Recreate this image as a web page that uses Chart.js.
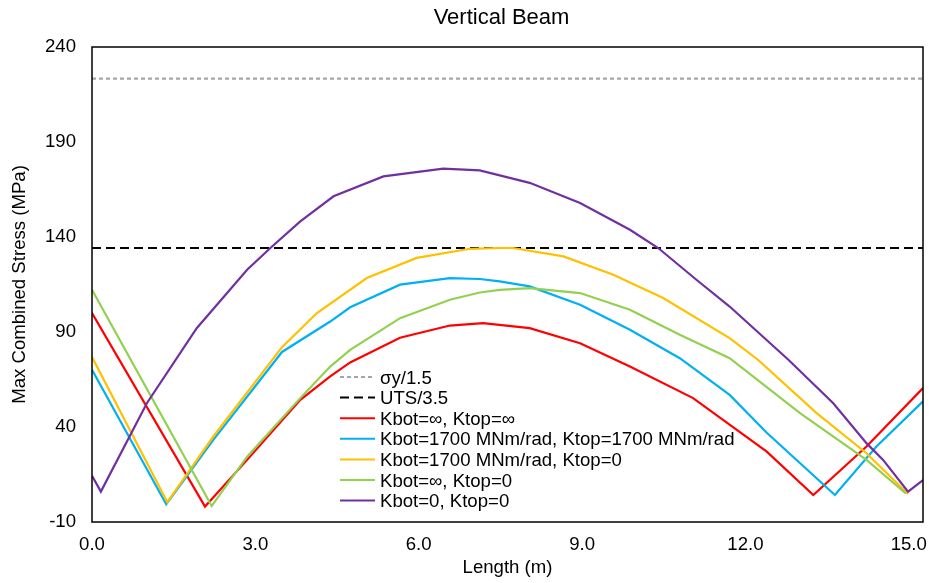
<!DOCTYPE html>
<html><head><meta charset="utf-8">
<script src="https://cdn.jsdelivr.net/npm/chart.js@4.4.1/dist/chart.umd.min.js"></script>
<style>html,body{margin:0;padding:0;background:#fff;overflow:hidden}canvas{display:block}</style>
</head><body>
<canvas id="c" width="929" height="583"></canvas>
<script>
const chartTitle = "Vertical Beam";
const xAxisTitle = "Length (m)";
const yAxisTitle = "Max Combined Stress (MPa)";
const xTicks = [0, 3, 6, 9, 12, 15];
const yTicks = [-10, 40, 90, 140, 190, 240];

const seriesNames = ["σy/1.5", "UTS/3.5", "Kbot=∞, Ktop=∞", "Kbot=1700 MNm/rad, Ktop=1700 MNm/rad",
  "Kbot=1700 MNm/rad, Ktop=0", "Kbot=∞, Ktop=0", "Kbot=0, Ktop=0"];

const limitLength = [0, 15];
const sigmaY15 = [223.4, 223.4];
const uts35 = [134.2, 134.2];

const redLength = [0, 2.04, 2.80, 3.76, 4.30, 4.66, 5.56, 6.46, 7.06, 7.9, 8.81, 9.71, 10.85, 12.18, 13.02, 13.98, 15.0];
const redStress = [100, -1.9, 22.7, 54.3, 66.6, 74.0, 87.0, 93.4, 94.7, 92.0, 84.1, 71.8, 55.2, 27.0, 4.2, 29.7, 60.5];

const blueLength = [0, 1.34, 2.19, 3.43, 4.30, 4.66, 5.56, 6.46, 7.0, 7.36, 7.9, 8.81, 9.71, 10.61, 11.51, 12.18, 13.41, 14.16, 15.0];
const blueStress = [70.1, -0.7, 33.2, 79.5, 95.5, 103.0, 114.9, 118.4, 117.9, 116.6, 114.0, 104.3, 91.2, 76.2, 56.9, 37.0, 4.2, 29.7, 53.5];

const orangeLength = [0, 1.36, 2.19, 3.43, 4.06, 4.96, 5.86, 6.82, 7.36, 7.6, 8.51, 9.41, 10.31, 11.51, 12.02, 13.08, 13.98, 14.73];
const orangeStress = [76.8, 0.4, 35.0, 82.0, 100.0, 118.4, 129.0, 133.8, 134.2, 134.2, 129.8, 120.1, 107.9, 86.8, 75.4, 47.3, 26.2, 4.7];

const greenLength = [0, 2.16, 2.80, 3.76, 4.30, 4.66, 5.56, 6.46, 7.0, 7.36, 7.9, 8.81, 9.71, 10.61, 11.51, 12.78, 13.98, 14.69];
const greenStress = [112.2, -1.6, 24.4, 55.2, 71.8, 80.6, 97.3, 107.0, 110.8, 112.2, 113.1, 110.5, 101.7, 88.5, 76.2, 47.3, 22.7, 5.0];

const purpleLength = [0, 0.16, 0.99, 1.89, 2.80, 3.22, 3.76, 4.36, 5.26, 6.34, 7.0, 7.9, 8.81, 9.71, 10.22, 10.91, 11.51, 12.57, 13.38, 13.98, 14.28, 14.73, 15.0];
const purpleStress = [14.3, 6.0, 52.5, 92.0, 122.8, 134.2, 148.2, 161.4, 171.9, 176.0, 175.1, 168.5, 157.9, 143.8, 134.2, 117.5, 103.4, 75.4, 52.5, 31.5, 22.7, 6.0, 12.1];

const zip = (xs, ys) => xs.map((x, i) => ({x: x, y: ys[i]}));

const datasets = [
  {label: seriesNames[0], data: zip(limitLength, sigmaY15), borderColor: '#A6A6A6', borderDash: [4, 3], order: 6},
  {label: seriesNames[1], data: zip(limitLength, uts35), borderColor: '#000000', borderDash: [9, 5], order: 5},
  {label: seriesNames[2], data: zip(redLength, redStress), borderColor: '#FF0000', borderDash: [], order: 4},
  {label: seriesNames[3], data: zip(blueLength, blueStress), borderColor: '#00B0F0', borderDash: [], order: 3},
  {label: seriesNames[4], data: zip(orangeLength, orangeStress), borderColor: '#FFC000', borderDash: [], order: 2},
  {label: seriesNames[5], data: zip(greenLength, greenStress), borderColor: '#92D050', borderDash: [], order: 1},
  {label: seriesNames[6], data: zip(purpleLength, purpleStress), borderColor: '#7030A0', borderDash: [], order: 0}
].map(d => Object.assign({borderWidth: 2.2, pointRadius: 0, tension: 0, fill: false}, d));

const FONT = "'Liberation Sans', Arial, sans-serif";
const FS = 18.6;

// Excel nudges the x tick labels progressively leftwards so that the last one fits
const labelShiftPlugin = {
  id: 'labelShift',
  beforeDraw(chart) {
    const s = chart.scales.x;
    const items = s.getLabelItems(chart.chartArea);
    items.forEach((it, i) => {
      if (it._shifted) return;
      const v = s.ticks[i] ? s.ticks[i].value : 0;
      it.options.translation[0] -= v * 0.95;
      it._shifted = true;
    });
  }
};

const decorPlugin = {
  id: 'decor',
  afterDraw(chart) {
    const ctx = chart.ctx, a = chart.chartArea;
    ctx.save();
    ctx.strokeStyle = '#000';
    ctx.lineWidth = 1.5;
    ctx.setLineDash([]);
    ctx.strokeRect(a.left, a.top, a.right - a.left, a.bottom - a.top);
    ctx.fillStyle = '#000';
    ctx.font = "22px " + FONT;
    ctx.textAlign = 'center';
    ctx.textBaseline = 'alphabetic';
    ctx.fillText(chartTitle, (a.left + a.right) / 2 - 6, 24);
    ctx.font = FS + "px " + FONT;
    ctx.fillText(xAxisTitle, (a.left + a.right) / 2, 573);
    ctx.save();
    ctx.translate(25, (a.top + a.bottom) / 2);
    ctx.rotate(-Math.PI / 2);
    ctx.fillText(yAxisTitle, 0, 0);
    ctx.restore();
    const lx = a.left + 248, y0 = 377, dy = 20.6;
    ctx.textAlign = 'left';
    ctx.textBaseline = 'middle';
    chart.data.datasets.forEach((ds, i) => {
      const y = y0 + i * dy;
      ctx.beginPath();
      ctx.strokeStyle = ds.borderColor;
      ctx.lineWidth = 2;
      ctx.setLineDash(ds.borderDash || []);
      ctx.moveTo(lx, y);
      ctx.lineTo(lx + 35, y);
      ctx.stroke();
      ctx.setLineDash([]);
      ctx.fillStyle = '#000';
      ctx.fillText(ds.label, lx + 40, y + 1.5);
    });
    ctx.restore();
  }
};

new Chart(document.getElementById('c'), {
  type: 'line',
  data: {datasets: datasets},
  options: {
    responsive: false,
    animation: false,
    devicePixelRatio: 1,
    layout: {padding: {left: 0, right: 6, top: 47, bottom: 0}},
    plugins: {legend: {display: false}, title: {display: false}, tooltip: {enabled: false}},
    scales: {
      x: {
        type: 'linear', min: 0, max: 15,
        grid: {display: false, drawTicks: false},
        border: {display: false},
        afterBuildTicks: s => { s.ticks = xTicks.map(v => ({value: v})); },
        afterFit: s => { s.height = 61; s.paddingLeft = 0; s.paddingRight = 0; },
        ticks: {padding: 12, color: '#000', font: {family: FONT, size: FS}, maxRotation: 0,
          callback: v => Number(v).toFixed(1)}
      },
      y: {
        type: 'linear', min: -10, max: 240,
        grid: {display: false, drawTicks: false},
        border: {display: false},
        afterBuildTicks: s => { s.ticks = yTicks.map(v => ({value: v})); },
        afterFit: s => { s.width = 92; s.paddingTop = 0; s.paddingBottom = 0; },
        ticks: {padding: 16, color: '#000', font: {family: FONT, size: FS},
          callback: v => String(v)}
      }
    }
  },
  plugins: [labelShiftPlugin, decorPlugin]
});
</script>
</body></html>
